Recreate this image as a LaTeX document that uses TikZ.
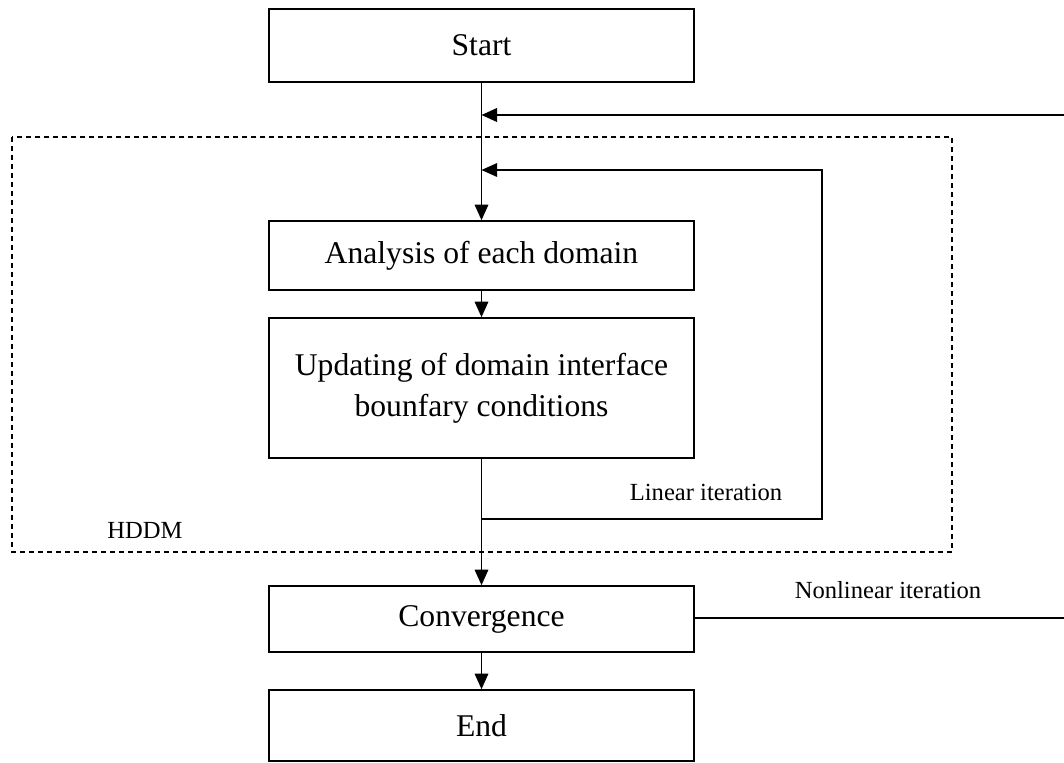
\documentclass[tikz,border=0pt]{standalone}
\usepackage{fontspec}
\setmainfont{Liberation Serif}
\usetikzlibrary{%
  arrows.meta,%
  calc,%
  positioning%
}

\begin{document}
\begin{tikzpicture}[x=0.02cm,y=-0.02cm]
       \tikzset{procbox/.style={rectangle, draw, line width=0.9pt, minimum width=8.5cm,
                font=\fontsize{18}{23.5}\selectfont, align=center, inner sep=0pt}}
       \tikzset{flow/.style={line width=0.9pt, -{Triangle[length=0.31cm,width=0.27cm]}}}
       \tikzset{note/.style={font=\fontsize{14}{16}\selectfont, inner sep=0pt}}

       \useasboundingbox (0,0) rectangle (1064,763);

       % boxes of the flow
       \node[procbox, minimum height=1.46cm] (start) at (481.5,45.5) {Start};
       \node[procbox, minimum height=1.38cm] (analysis) at (481.5,255.5) {Analysis of each domain};
       \node[procbox, minimum height=2.8cm] (update) at (481.5,388) {Updating of domain interface\\bounfary conditions};
       \node[procbox, minimum height=1.32cm] (converge) at (481.5,619) {Convergence};
       \node[procbox, minimum height=1.42cm] (end) at (481.5,725.5) {End};

       % HDDM frame
       \draw[line width=1pt, dash pattern=on 0.1cm off 0.08cm] (12,137) rectangle (952,552);
       \node[note] (hddm) at (145,530) {HDDM};

       % junctions on the main line
       \coordinate (outerin) at (481.5,115);
       \coordinate (innerin) at (481.5,170);
       \coordinate (innerout) at (481.5,519);
       \coordinate (innercorner) at (822,170);
       \coordinate (outerright) at (1064,115);
       \coordinate (convright) at (1064,618);

       \draw[flow] (start) -- (analysis);
       \draw[flow] (analysis) -- (update);
       \draw[flow] (update) -- (converge);
       \draw[flow] (converge) -- (end);

       % linear iteration loop
       \draw[flow] (innerout) -| (innercorner) -- (innerin);
       \node[note] (linear) at (706,492) {Linear iteration};

       % nonlinear iteration loop
       \draw[line width=1.1pt] (converge.east |- convright) -- (convright);
       \draw[flow, line width=1.2pt] (outerright) -- (outerin);
       \node[note] (nonlinear) at (888,590) {Nonlinear iteration};

\end{tikzpicture}
\end{document}
